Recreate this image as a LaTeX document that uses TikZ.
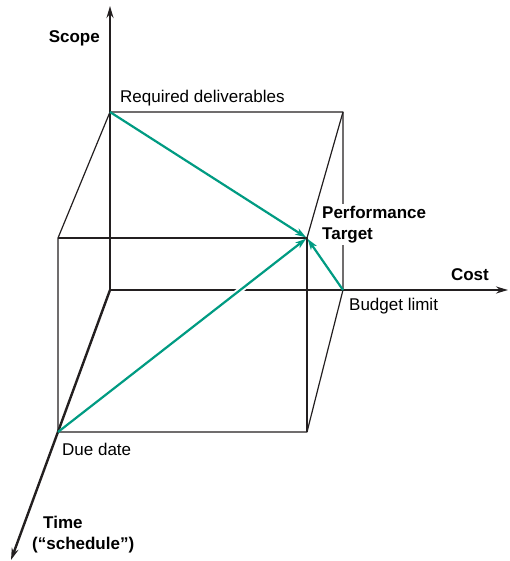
\documentclass[tikz,border=0pt]{standalone}
\usepackage{fontspec}
\setmainfont{Liberation Sans}
\usetikzlibrary{arrows.meta,calc}
\definecolor{teal1}{RGB}{0,155,130}
\definecolor{ink}{RGB}{35,31,32}

\begin{document}
\begin{tikzpicture}[x=1pt, y=-1pt, line join=round,
	axis line/.style={ink, line width=2.4pt, -{Stealth[length=12pt,width=7pt,inset=4pt]}},
	edge line/.style={ink, line width=1.2pt},
	goal/.style={teal1, line width=2.2pt, shorten >=1pt, -{Stealth[length=11pt,width=7pt,inset=3pt]}},
	txt/.style={inner sep=0pt, font=\fontsize{17}{21}\selectfont},
	bold txt/.style={txt, font=\fontsize{17}{21}\selectfont\bfseries}]

	\useasboundingbox (0,0) rectangle (509,561);

	% corners of the box
	\coordinate (O) at (110,290);
	\coordinate (req) at (110,112);
	\coordinate (b2) at (343,112);
	\coordinate (budget) at (343,290);
	\coordinate (f1) at (58,238);
	\coordinate (pt) at (307,238);
	\coordinate (f3) at (307,432);
	\coordinate (due) at (58,432);
	% ends of the axes
	\coordinate (scope end) at (110,6);
	\coordinate (cost end) at (508,290);
	\coordinate (time end) at (11,560);

	\draw[edge line] (req) -- (b2) -- (budget) -- (f3) -- (due) -- (f1) -- (req);
	\draw[edge line] (f1) -- (pt) -- (f3);
	\draw[edge line] (b2) -- (pt);

	\draw[axis line] (O) -- (scope end);
	\draw[axis line] (O) -- (cost end);
	\draw[axis line] (O) -- (time end);

	\draw[white, line width=6pt] ($(due)!0.69!(pt)$) -- ($(due)!0.77!(pt)$);
	\path[goal] (req) edge (pt)
		(due) edge (pt)
		(budget) edge (pt);

	\node[bold txt, anchor=base east] (scope) at (100,43) {Scope};
	\node[txt, anchor=base west] (reqlab) at (120,103) {Required deliverables};
	\node[bold txt, anchor=north west, align=left, fill=white, inner sep=2pt] (target) at (320,204) {Performance\\Target};
	\node[bold txt, anchor=base east] (cost) at (489,280) {Cost};
	\node[txt, anchor=base west] (budgetlab) at (349,310) {Budget limit};
	\node[txt, anchor=base west] (duelab) at (62,455) {Due date};
	\node[bold txt, anchor=north west, align=left] (time) at (32,516) {\hspace*{11pt}Time\\(“schedule”)};
\end{tikzpicture}
\end{document}
